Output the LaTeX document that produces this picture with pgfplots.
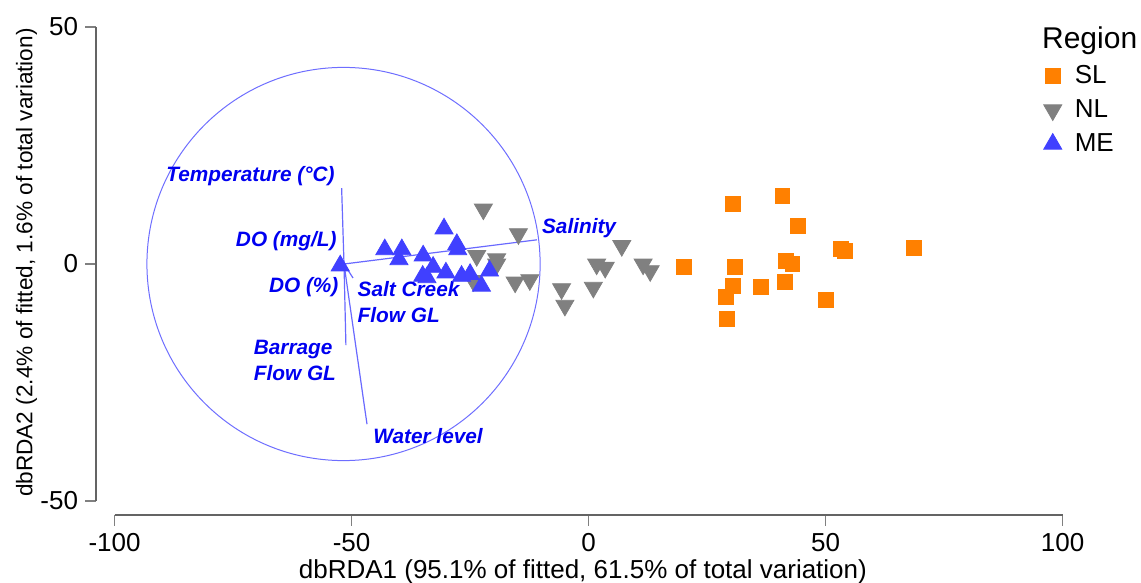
\documentclass[border=0pt]{standalone}
\usepackage{pgfplots}
\pgfplotsset{compat=1.18}
\usepackage{fontspec}
\setmainfont{Liberation Sans}

\definecolor{slorange}{RGB}{255,128,0}
\definecolor{nlgray}{RGB}{128,128,128}
\definecolor{meblue}{RGB}{64,64,255}
\definecolor{vecblue}{RGB}{105,105,255}
\definecolor{circblue}{RGB}{110,110,255}
\definecolor{lblblue}{RGB}{0,0,240}
\definecolor{axisgray}{RGB}{100,100,100}

\tikzset{lbl/.style={font=\fontsize{10.4}{13}\selectfont\bfseries\itshape,
    text=lblblue, inner sep=0pt, align=left}}

\begin{document}
\begin{tikzpicture}
\begin{axis}[
  anchor=origin,
  x=2.37pt, y=2.37pt,
  xmin=-103.9, xmax=100, ymin=-52.95, ymax=50,
  clip=false,
  axis line style={draw=none},
  tick pos=left,
  tick align=outside,
  major tick length=5.5pt,
  tick style={color=gray, line width=0.6pt},
  xtick={-100,-50,0,50,100},
  ytick={-50,0,50},
  /pgf/number format/assume math mode=true,
  ticklabel style={font=\fontsize{13}{15.6}\selectfont},
  xlabel={dbRDA1 (95.1\% of fitted, 61.5\% of total variation)},
  ylabel={dbRDA2 (2.4\% of fitted, 1.6\% of total variation)},
  xlabel style={at={(axis cs:-1.2,-65)}, anchor=center,
    font=\fontsize{13}{15.6}\selectfont},
  ylabel style={at={(axis cs:-118.6,0.3)}, anchor=center,
    font=\fontsize{11.3}{13.6}\selectfont},
  legend style={at={(axis cs:95.9,42.6)}, anchor=north west, draw=none,
    fill=none, inner sep=0pt, row sep=3.5pt,
    font=\fontsize{13}{15.6}\selectfont, nodes={inner sep=1.5pt}},
  legend cell align=left,
  legend image code/.code={\path[draw=none, fill=none] (-4.6pt,0pt) -- (9.5pt,0pt);
    \draw[#1, only marks] plot coordinates {(0pt,0pt)};},
]

% axis lines, kept to the tick range
\draw[axisgray, line width=0.7pt] (axis cs:-100,-52.95) -- (axis cs:100,-52.95);
\draw[axisgray, line width=0.7pt] (axis cs:-103.9,-50) -- (axis cs:-103.9,50);

% correlation circle
\draw[circblue, line width=0.5pt] (axis cs:-51.7,0) circle[radius=98.3pt];

% SL
\addplot[only marks, mark=square*, mark size=3.7pt,
  mark options={draw=slorange, fill=slorange}] coordinates {
  (20.1,-0.56) (30.4,12.6) (40.9,14.3) (44.1,8.0) (30.8,-0.63)
  (30.4,-4.6) (28.9,-7.0) (29.2,-11.5) (36.4,-4.8) (41.6,0.70)
  (43.0,-0.06) (41.4,-3.8) (50.0,-7.6) (53.2,3.2) (54.1,2.7)
  (68.6,3.4)
};
\addlegendentry{SL}

% NL
\addplot[only marks, mark=triangle*, mark size=5.2pt,
  mark options={draw=nlgray, fill=nlgray, rotate=180}] coordinates {
  (-22.2,11.55) (-14.8,6.35) (-23.6,1.75) (-19.4,1.05) (-19.4,-0.05)
  (-24.3,-3.55) (-15.5,-3.85) (-12.4,-3.35) (7.0,3.85) (1.7,-0.05)
  (3.5,-0.75) (11.5,-0.05) (13.0,-1.45) (1.0,-4.95) (-5.7,-5.25)
  (-5.0,-8.75)
};
\addlegendentry{NL}

% ME
\addplot[only marks, mark=triangle*, mark size=5.2pt,
  mark options={draw=meblue, fill=meblue}] coordinates {
  (-52.4,-0.35) (-43.0,3.05) (-39.4,3.05) (-40.0,0.95) (-34.9,1.75)
  (-30.5,7.45) (-27.8,4.15) (-27.6,3.05) (-32.8,-0.65) (-35.0,-2.55)
  (-34.1,-2.85) (-30.1,-1.85) (-26.8,-2.55) (-25.0,-2.15) (-20.9,-1.45)
  (-22.6,-4.65)
};
\addlegendentry{ME}

% environmental vectors
\addplot[vecblue, line width=0.6pt, no marks, forget plot] coordinates {(-51.6,0) (-52.1,16.0)};
\addplot[vecblue, line width=0.6pt, no marks, forget plot] coordinates {(-51.6,0) (-10.9,5.1)};
\addplot[vecblue, line width=0.6pt, no marks, forget plot] coordinates {(-51.6,0) (-49.7,-2.95)};
\addplot[vecblue, line width=0.6pt, no marks, forget plot] coordinates {(-51.6,0) (-51.2,-17.1)};
\addplot[vecblue, line width=0.6pt, no marks, forget plot] coordinates {(-51.6,0) (-46.75,-33.8)};
\addplot[vecblue, line width=0.6pt, no marks, forget plot] coordinates {(-51.6,0) (-52.2,0.8)};
\addplot[vecblue, line width=0.6pt, no marks, forget plot] coordinates {(-51.6,0) (-52.1,-0.6)};

% vector labels
\node[lbl, anchor=east] at (axis cs:-53.5,18.6) {Temperature (°C)};
\node[lbl, anchor=east] at (axis cs:-53.1,4.8) {DO (mg/L)};
\node[lbl, anchor=east] at (axis cs:-52.7,-4.8) {DO (\%)};
\node[lbl, anchor=west] at (axis cs:-48.8,-8.0) {Salt Creek\\Flow GL};
\node[lbl, anchor=west] at (axis cs:-70.7,-20.4) {Barrage\\Flow GL};
\node[lbl, anchor=west] at (axis cs:-45.5,-36.4) {Water level};
\node[lbl, anchor=west] at (axis cs:-9.9,7.5) {Salinity};

% legend title
\node[anchor=west, inner sep=0pt, font=\fontsize{15}{18}\selectfont]
  at (axis cs:95.6,47.1) {Region};
\end{axis}
\pgfresetboundingbox
\useasboundingbox (-294.3pt,-159.5pt) rectangle (276.2pt,132pt);
\end{tikzpicture}
\end{document}
